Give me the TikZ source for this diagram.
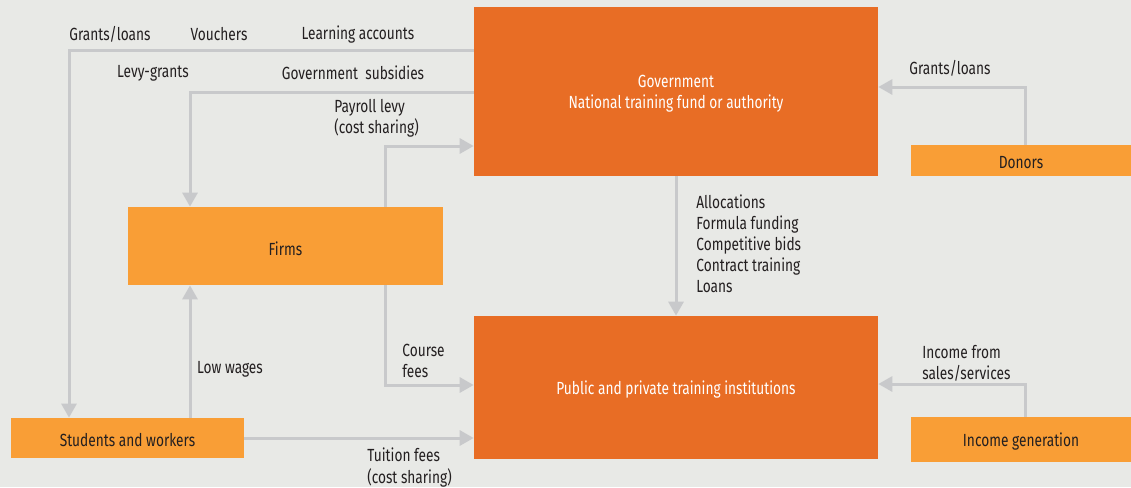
\documentclass[tikz,border=0pt]{standalone}
\usepackage{fontspec}
\setmainfont{Fira Sans}[FakeStretch=0.78]
\usepackage{tikz}
\usetikzlibrary{arrows.meta,positioning,calc}

\definecolor{bgray}{HTML}{E8E9E6}
\definecolor{dorange}{HTML}{E86D25}
\definecolor{lorange}{HTML}{F99E36}
\definecolor{lgray}{HTML}{C8C9CB}
\definecolor{ink}{HTML}{231F20}

\begin{document}
\begin{tikzpicture}[x=0.02cm, y=-0.02cm,
        font=\fontsize{10}{12}\selectfont, text=ink,
        bigbox/.style={fill=dorange, minimum width=8.08cm, inner sep=0pt},
        smallbox/.style={fill=lorange, inner sep=0pt},
        boxtxt/.style={inner sep=0pt, align=center, yshift=-0.045cm},
        flow/.style={draw=lgray, line width=0.06cm, -{Triangle[width=0.3cm,length=0.28cm]}, color=lgray},
        lbl/.style={inner sep=0pt, align=left, yshift=-0.04cm}]
    \fill[bgray] (0,0) rectangle (1131,487);

    % boxes
    \node[bigbox, minimum height=3.38cm] (gov) at (676,91.5) {};
    \node[bigbox, minimum height=2.86cm] (inst) at (676,387.5) {};
    \node[smallbox, minimum width=4.4cm, minimum height=0.62cm] (donors) at (1021,160.5) {};
    \node[smallbox, minimum width=6.3cm, minimum height=1.56cm] (firms) at (285.5,246) {};
    \node[smallbox, minimum width=4.66cm, minimum height=0.8cm] (students) at (127.5,438) {};
    \node[smallbox, minimum width=4.4cm, minimum height=0.9cm] (income) at (1021,439.5) {};

    \node[boxtxt, text=white] (govtxt) at (gov) {Government\\National training fund or authority};
    \node[boxtxt, text=white] (insttxt) at (inst) {Public and private training institutions};
    \node[boxtxt] (donorstxt) at (donors) {Donors};
    \node[boxtxt] (firmstxt) at (firms) {Firms};
    \node[boxtxt] (studentstxt) at (students) {Students and workers};
    \node[boxtxt] (incometxt) at (income) {Income generation};

    % bends
    \coordinate (b1) at (69,50);
    \coordinate (b2) at (190,92);
    \coordinate (b3) at (385,146);
    \coordinate (b4) at (1025,87);
    \coordinate (b6) at (385,385);
    \coordinate (b7) at (190,0);
    \coordinate (b9) at (1025,384);

    \draw[flow] (gov.west |- b1) -| (students.north -| b1);
    \draw[flow] (gov.west |- b2) -| (firms.north -| b2);
    \draw[flow] (firms.north -| b3) |- (gov.west |- b3);
    \draw[flow] (donors.north -| b4) |- (gov.east |- b4);
    \draw[flow] (gov.south) -- (inst.north);
    \draw[flow] (firms.south -| b6) |- (inst.west |- b6);
    \draw[flow] (students.north -| b7) -- (firms.south -| b7);
    \draw[flow] (students.east) -- (inst.west |- students.east);
    \draw[flow] (income.north -| b9) |- (inst.east |- b9);

    % labels
    \node[lbl] (l1) at (110,32) {Grants/loans};
    \node[lbl] (l2) at (219,32) {Vouchers};
    \node[lbl] (l3) at (358,33) {Learning accounts};
    \node[lbl] (l4) at (153,71) {Levy-grants};
    \node[lbl] (l5) at (353,71) {Government\ \ subsidies};
    \node[lbl, anchor=west] (l6) at (334,116) {Payroll levy\\(cost sharing)};
    \node[lbl] (l7) at (950,66) {Grants/loans};
    \node[lbl, anchor=west] (l8) at (696,241.5) {Allocations\\Formula funding\\Competitive bids\\Contract training\\Loans};
    \node[lbl, anchor=west] (l9) at (402,358.5) {Course\\fees};
    \node[lbl] (l10) at (230,367) {Low wages};
    \node[lbl, anchor=west] (l11) at (367,465.5) {Tuition fees\\(cost sharing)};
    \node[lbl, anchor=west] (l12) at (922,361.5) {Income from\\sales/services};
\end{tikzpicture}
\end{document}
